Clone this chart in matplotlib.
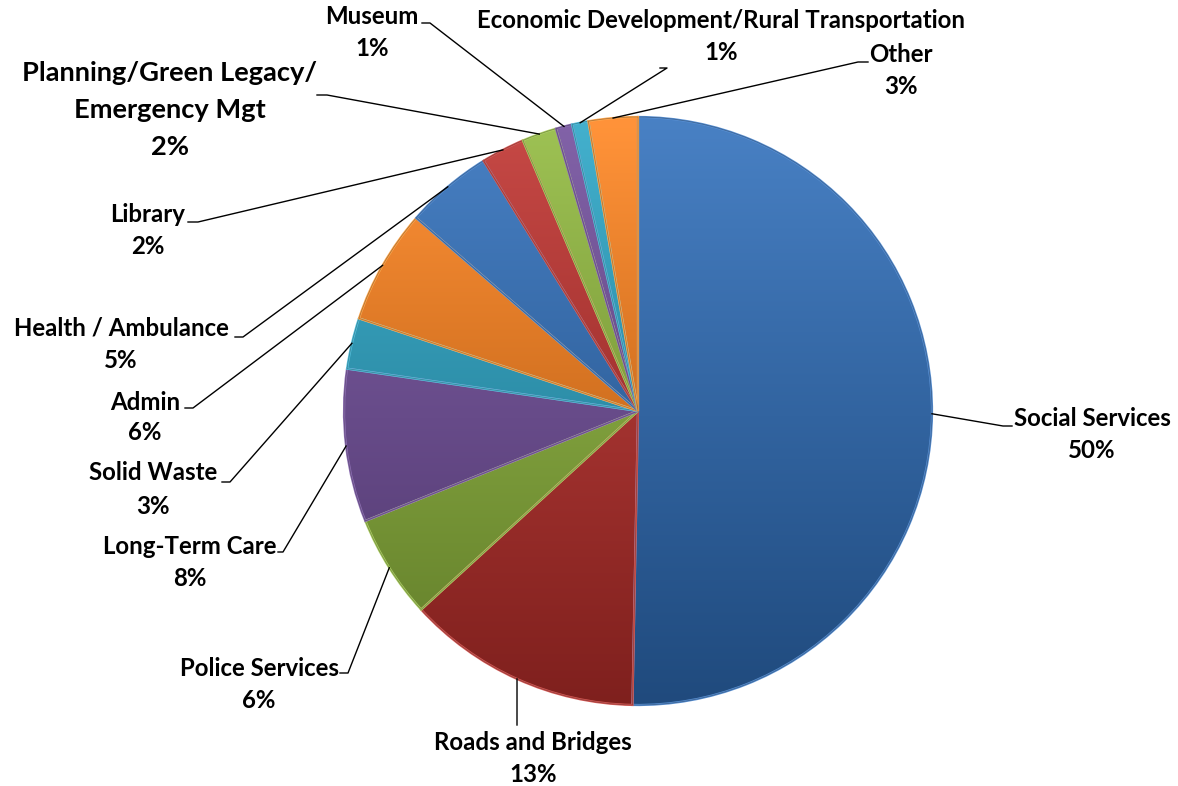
import matplotlib
matplotlib.use("Agg")
import matplotlib.pyplot as plt
import matplotlib.colors as mcolors
from matplotlib.patches import Wedge
import numpy as np

# budget share by department (percent), clockwise from 12 o'clock
categories = ["Social Services", "Roads and Bridges", "Police Services", "Long-Term Care",
              "Solid Waste", "Admin", "Health / Ambulance", "Library",
              "Planning/Green Legacy/\nEmergency Mgt", "Museum",
              "Economic Development/Rural Transportation", "Other"]
values = [50.3, 12.9, 5.7, 8.4, 2.8, 6.3, 4.8, 2.4, 1.9, 0.9, 0.9, 2.7]
base_colors = ["#4F81BD", "#C0504D", "#9BBB59", "#8064A2", "#4BACC6", "#F79646",
               "#4F81BD", "#C0504D", "#9BBB59", "#8064A2", "#4BACC6", "#F79646"]

# label layout in pixel coords (y from top): text centre x, y of first line, leader knee, leader tail
label_x = [1092, 533, 259, 190, 153, 145, 121, 148, 170, 372, 721, 901]
label_y = [418, 743, 668, 547, 472, 402, 328, 215, 73, 17, 20, 55]
pct_gap = [32, 32, 32, 31, 34, 31, 33, 32, 37, 31, 33, 32]
knee = [(1003, 426), (517, 725), (348, 673), (283, 552), (230, 482), (193, 408),
        (243, 337), (198, 222), (327, 95), (430, 23), (667, 68), (858, 62)]
tail = [(1012, 426), (517, 725), (340, 673), (278, 552), (222, 482), (185, 408),
        (235, 337), (188, 222), (317, 95), (422, 23), (660, 68), (868, 62)]

W, H = 1178, 786
cx, cy, r = 638, H - 411, 294

fig = plt.figure(figsize=(W / 100, H / 100), dpi=100)
ax = fig.add_axes([0, 0, 1, 1])
ax.axis("off")

wedges, _ = ax.pie(values, startangle=90, counterclock=False, center=(cx, cy), radius=r,
                   colors=base_colors, wedgeprops=dict(linewidth=0))

# vertical shading: lighter at top, darker at bottom (like the Excel bevel look)
rows = 400
t = np.linspace(0, 1, rows)
shade = 1.04 - 0.38 * t
for w, c in zip(wedges, base_colors):
    hsv = mcolors.rgb_to_hsv(np.array(mcolors.to_rgb(c)))
    img = np.zeros((rows, 1, 3))
    img[:, 0, 0] = hsv[0]
    img[:, 0, 1] = np.clip(hsv[1] * (1.08 + 0.2 * t), 0, 1)
    img[:, 0, 2] = np.clip(hsv[2] * shade, 0, 1)
    rgb = mcolors.hsv_to_rgb(img)
    im = ax.imshow(rgb, extent=(cx - r, cx + r, cy - r, cy + r), origin="upper",
                   aspect="auto", zorder=2, interpolation="bilinear")
    im.set_clip_path(w)
    edge = np.array(mcolors.to_rgb(c)) * 1.12
    ax.add_patch(Wedge((cx, cy), r, w.theta1, w.theta2, fill=False,
                       ec=np.clip(edge, 0, 1), lw=1.6, zorder=3))
    ax.add_patch(Wedge((cx, cy), r, w.theta1, w.theta2, fill=False,
                       ec=(0, 0, 0, 0.3), lw=0.6, zorder=3))

total = sum(values)
font = ["Lato", "DejaVu Sans"]
for i, w in enumerate(wedges):
    mid = np.deg2rad((w.theta1 + w.theta2) / 2)
    ex, ey = cx + r * np.cos(mid), cy + r * np.sin(mid)
    kx, ky = knee[i]
    tx, ty = tail[i]
    ax.plot([ex, kx, tx], [ey, H - ky, H - ty], color="black", lw=1, zorder=4)
    size = 19.6 if i == 8 else 17.3
    lines = categories[i].split("\n")
    y = label_y[i]
    for ln in lines:
        ax.text(label_x[i], H - y, ln, ha="center", va="center", fontsize=size,
                fontweight="bold", family=font, zorder=5)
        y += pct_gap[i]
    ax.text(label_x[i], H - y, f"{round(values[i] / total * 100)}%", ha="center",
            va="center", fontsize=size, fontweight="bold", family=font, zorder=5)

ax.set_xlim(0, W)
ax.set_ylim(0, H)
fig.savefig("out.png", dpi=100, facecolor="white")
